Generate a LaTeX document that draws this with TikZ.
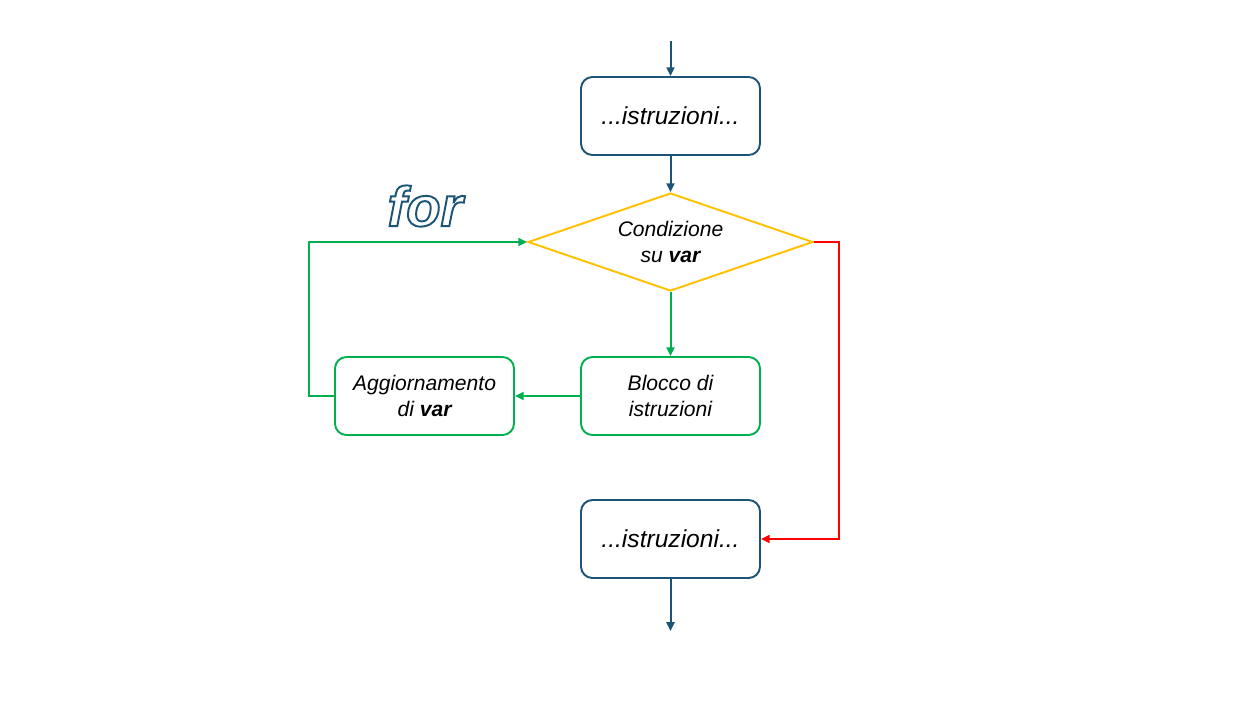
\documentclass[tikz,border=0pt]{standalone}
\usepackage{fontspec}
\setmainfont{Liberation Sans}
\usetikzlibrary{arrows.meta,positioning,shapes.geometric}
\definecolor{blu}{RGB}{27,84,119}
\definecolor{oro}{RGB}{255,192,0}
\definecolor{verde}{RGB}{0,176,80}
\definecolor{rosso}{RGB}{255,0,0}
% testo bianco con contorno blu
\newcommand{\contornato}[1]{\textcolor{white}{\special{pdf:literal 0.106 0.329 0.467 RG 2 Tr 1.1 w}#1\special{pdf:literal 0 Tr}}}

\begin{document}
\begin{tikzpicture}[x=0.02cm,y=-0.02cm,
    box/.style={draw=#1,line width=1.1pt,rounded corners=6.5pt,fill=white,
      minimum width=3.58cm,minimum height=1.56cm,align=center,inner sep=2pt},
    rombo/.style={diamond,draw=oro,line width=1.1pt,fill=white,aspect=2.9,
      minimum width=5.7cm,minimum height=1.96cm,inner sep=0pt,align=center},
    freccia/.style={-{Triangle[length=5pt,width=4.5pt]},line width=1.15pt},
    testo/.style={font=\itshape\fontsize{12}{15}\selectfont},
    grande/.style={font=\itshape\fontsize{14}{17}\selectfont}]
  \useasboundingbox (0,0) rectangle (1246,704);

  % nodi
  \node[box=blu,grande] (istr1) at (670.5,116) {...istruzioni...};
  \node[rombo,testo] (cond) at (670.5,242) {Condizione\\su \textbf{var}};
  \node[box=verde,testo] (blocco) at (670.5,396) {Blocco di\\istruzioni};
  \node[box=verde,testo] (aggiorn) at (424.5,396) {Aggiornamento\\di \textbf{var}};
  \node[box=blu,grande] (istr2) at (670.5,539) {...istruzioni...};
  \coordinate (inizio) at (670.5,41);
  \coordinate (fine) at (670.5,631);

  % etichetta del ciclo
  \node[font=\bfseries\itshape\fontsize{32}{36}\selectfont] (forlbl) at (425,206)
    {\contornato{for}};

  % collegamenti
  \draw[freccia,blu] (inizio) -- (istr1);
  \draw[freccia,blu] (istr1) -- (cond);
  \draw[freccia,verde] (cond) -- (blocco);
  \draw[freccia,verde] (blocco) -- (aggiorn);
  \draw[freccia,verde] (aggiorn.west) -- ++(-25,0) |- (cond.west);
  \draw[freccia,rosso] (cond.east) -- ++(25,0) |- (istr2.east);
  \draw[freccia,blu] (istr2) -- (fine);
\end{tikzpicture}
\end{document}
